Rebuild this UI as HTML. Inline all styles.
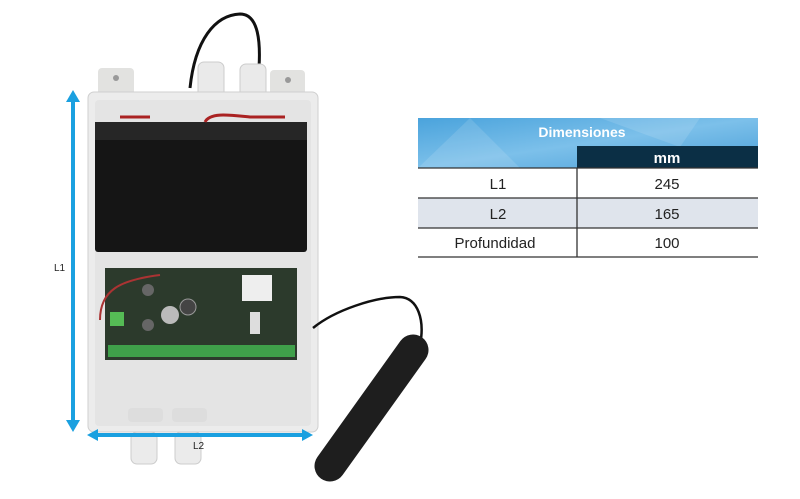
<!DOCTYPE html>
<html><head><meta charset="utf-8"><style>
body{margin:0;background:#fff;width:800px;height:499px;overflow:hidden;font-family:"Liberation Sans",sans-serif}
</style></head><body>
<svg width="800" height="499" viewBox="0 0 800 499" xmlns="http://www.w3.org/2000/svg" style="position:absolute;left:0;top:0">
<defs>
<linearGradient id="hb" x1="0" y1="0" x2="1" y2="1">
<stop offset="0" stop-color="#4aa3dc"/><stop offset="0.5" stop-color="#7cc0ea"/><stop offset="1" stop-color="#4a9fd8"/></linearGradient>
</defs>
<!-- top cable -->
<path d="M190 88 C195 40 215 15 240 14 C258 14 262 40 258 80" stroke="#111" stroke-width="3" fill="none"/>
<!-- ears -->
<rect x="98" y="68" width="36" height="30" rx="4" fill="#e2e2e0"/>
<rect x="270" y="70" width="35" height="28" rx="4" fill="#e2e2e0"/>
<circle cx="116" cy="78" r="3" fill="#999"/><circle cx="288" cy="80" r="3" fill="#999"/>
<!-- glands top -->
<rect x="198" y="62" width="26" height="38" rx="6" fill="#eaeaea" stroke="#ccc"/>
<rect x="240" y="64" width="26" height="36" rx="6" fill="#eaeaea" stroke="#ccc"/>
<!-- box -->
<rect x="88" y="92" width="230" height="340" rx="6" fill="#ececec" stroke="#cfcfcf"/>
<rect x="95" y="100" width="216" height="326" rx="4" fill="#e4e4e4"/>
<!-- battery -->
<rect x="95" y="122" width="212" height="130" rx="3" fill="#151515"/>
<rect x="95" y="122" width="212" height="18" fill="#262626"/>
<path d="M120 117 L150 117 M205 122 C210 112 230 115 250 117 L285 117" stroke="#a22" stroke-width="3" fill="none"/>
<!-- pcb -->
<rect x="105" y="268" width="192" height="92" fill="#2c3a2c"/>
<path d="M100 320 C100 290 120 280 160 275" stroke="#a33" stroke-width="2" fill="none"/>
<rect x="242" y="275" width="30" height="26" fill="#eee"/>
<circle cx="170" cy="315" r="9" fill="#bbb"/><circle cx="188" cy="307" r="8" fill="#444" stroke="#999"/>
<circle cx="148" cy="290" r="6" fill="#666"/><circle cx="148" cy="325" r="6" fill="#666"/>
<rect x="110" y="312" width="14" height="14" fill="#5b5"/>
<rect x="108" y="345" width="187" height="12" fill="#3fa04a"/>
<rect x="250" y="312" width="10" height="22" fill="#ddd"/>
<!-- bottom glands -->
<rect x="128" y="408" width="35" height="14" rx="4" fill="#ddd"/>
<rect x="172" y="408" width="35" height="14" rx="4" fill="#ddd"/>
<rect x="131" y="432" width="26" height="32" rx="6" fill="#ebebeb" stroke="#ccc"/>
<rect x="175" y="432" width="26" height="32" rx="6" fill="#ebebeb" stroke="#ccc"/>
<!-- antenna -->
<path d="M313 328 C335 310 375 297 400 297 C418 298 425 320 420 345" stroke="#111" stroke-width="2.5" fill="none"/>
<line x1="413" y1="350" x2="330" y2="466" stroke="#1e1e1e" stroke-width="31" stroke-linecap="round"/>
<!-- arrows -->
<g fill="#1aa0e0" stroke="#1aa0e0">
<line x1="73" y1="98" x2="73" y2="424" stroke-width="4"/>
<path d="M66 102 L73 90 L80 102Z" stroke="none"/><path d="M66 420 L73 432 L80 420Z" stroke="none"/>
<line x1="94" y1="435" x2="306" y2="435" stroke-width="4"/>
<path d="M98 429 L87 435 L98 441Z" stroke="none"/><path d="M302 429 L313 435 L302 441Z" stroke="none"/>
</g>
<text x="54" y="271" font-size="10" fill="#222">L1</text>
<text x="193" y="449" font-size="10" fill="#222">L2</text>
<!-- table -->
<rect x="418" y="118" width="340" height="50" fill="url(#hb)"/>
<path d="M418 168 L470 118 L520 168Z M600 118 L680 147 L700 118Z" fill="#ffffff" opacity="0.12"/>
<text x="582" y="137" font-size="14" font-weight="bold" fill="#fff" text-anchor="middle">Dimensiones</text>
<rect x="577" y="146" width="181" height="22" fill="#0b2f45"/>
<text x="667" y="163" font-size="15" font-weight="bold" fill="#fff" text-anchor="middle">mm</text>
<rect x="418" y="198" width="340" height="30" fill="#dfe4ec"/>
<g stroke="#333" stroke-width="1.3">
<line x1="418" y1="168" x2="758" y2="168"/><line x1="418" y1="198" x2="758" y2="198"/>
<line x1="418" y1="228" x2="758" y2="228"/><line x1="418" y1="257" x2="758" y2="257"/>
<line x1="577" y1="168" x2="577" y2="257"/></g>
<g font-size="15" fill="#222" text-anchor="middle">
<text x="498" y="189">L1</text><text x="667" y="189">245</text>
<text x="498" y="219">L2</text><text x="667" y="219">165</text>
<text x="495" y="248">Profundidad</text><text x="667" y="248">100</text></g>
</svg>
</body></html>
